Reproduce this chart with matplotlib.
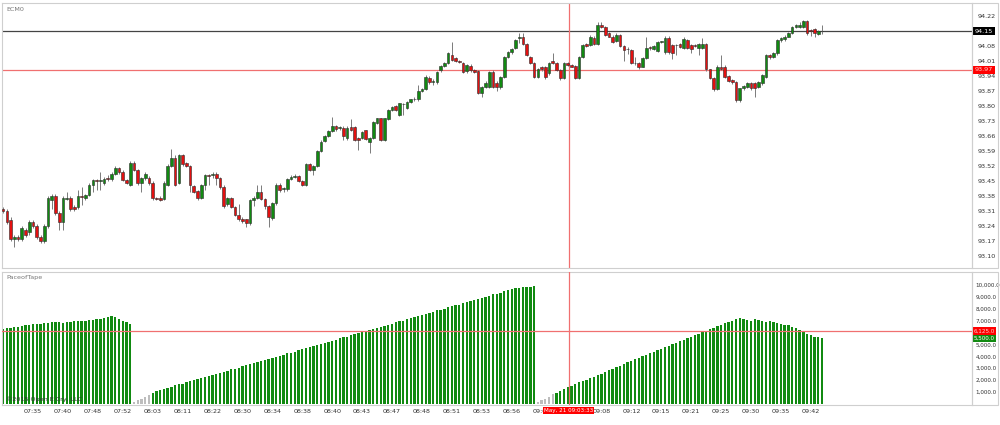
import matplotlib
matplotlib.use("Agg")
import matplotlib.pyplot as plt
from matplotlib.patches import Rectangle

# candles (one per bar, left to right)
opens = [93.32, 93.31, 93.27, 93.18, 93.19, 93.18, 93.22, 93.21, 93.26, 93.24,
         93.19, 93.17, 93.24, 93.36, 93.38, 93.30, 93.26, 93.365, 93.37, 93.33,
         93.33, 93.38, 93.37, 93.385, 93.43, 93.455, 93.45, 93.44, 93.465, 93.458,
         93.483, 93.509, 93.493, 93.455, 93.431, 93.532, 93.501, 93.442, 93.462, 93.462,
         93.442, 93.369, 93.372, 93.364, 93.431, 93.52, 93.559, 93.439, 93.571, 93.532,
         93.521, 93.427, 93.403, 93.369, 93.431, 93.478, 93.476, 93.483, 93.462, 93.423,
         93.342, 93.369, 93.330, 93.291, 93.271, 93.271, 93.252, 93.361, 93.372, 93.400,
         93.364, 93.333, 93.276, 93.346, 93.431, 93.411, 93.411, 93.459, 93.470, 93.475,
         93.451, 93.431, 93.529, 93.501, 93.520, 93.591, 93.638, 93.660, 93.683, 93.707,
         93.699, 93.699, 93.649, 93.700, 93.700, 93.649, 93.649, 93.688, 93.633, 93.649,
         93.722, 93.742, 93.641, 93.738, 93.781, 93.800, 93.758, 93.809, 93.789, 93.820,
         93.831, 93.831, 93.870, 93.879, 93.932, 93.913, 93.913, 93.968, 93.988, 93.999,
         94.038, 94.022, 94.010, 93.999, 93.963, 93.988, 93.968, 93.963, 93.859, 93.890,
         93.890, 93.960, 93.909, 93.890, 93.937, 94.030, 94.050, 94.069, 94.116, 94.120,
         94.088, 94.030, 93.999, 93.937, 93.980, 93.980, 93.952, 94.010, 93.999, 93.968,
         93.929, 93.999, 93.991, 93.988, 93.929, 94.030, 94.088, 94.085, 94.119, 94.088,
         94.178, 94.170, 94.139, 94.124, 94.103, 94.131, 94.082, 94.064, 94.061, 93.999,
         93.999, 93.984, 94.025, 94.077, 94.064, 94.057, 94.100, 94.050, 94.119, 94.085,
         94.085, 94.088, 94.069, 94.108, 94.085, 94.085, 94.069, 94.069, 94.088, 93.971,
         93.932, 93.879, 93.984, 93.984, 93.940, 93.921, 93.913, 93.828, 93.882, 93.890,
         93.906, 93.906, 93.890, 93.906, 93.937, 94.038, 94.030, 94.046, 94.108, 94.113,
         94.124, 94.139, 94.170, 94.170, 94.170, 94.197, 94.155, 94.159, 94.134, 94.150]
highs = [93.33, 93.32, 93.28, 93.20, 93.20, 93.24, 93.23, 93.27, 93.27, 93.25,
         93.20, 93.25, 93.38, 93.39, 93.39, 93.31, 93.38, 93.40, 93.38, 93.34,
         93.41, 93.42, 93.39, 93.44, 93.46, 93.46, 93.49, 93.47, 93.48, 93.49,
         93.52, 93.515, 93.50, 93.46, 93.545, 93.545, 93.505, 93.47, 93.49, 93.475,
         93.45, 93.375, 93.38, 93.45, 93.53, 93.598, 93.57, 93.575, 93.575, 93.54,
         93.525, 93.43, 93.41, 93.435, 93.485, 93.485, 93.49, 93.49, 93.47, 93.43,
         93.375, 93.375, 93.335, 93.345, 93.28, 93.275, 93.365, 93.38, 93.431, 93.431,
         93.37, 93.34, 93.35, 93.44, 93.44, 93.42, 93.465, 93.48, 93.485, 93.48,
         93.455, 93.535, 93.535, 93.525, 93.595, 93.64, 93.665, 93.69, 93.747, 93.71,
         93.705, 93.705, 93.705, 93.738, 93.705, 93.655, 93.685, 93.69, 93.655, 93.73,
         93.745, 93.745, 93.745, 93.785, 93.80, 93.805, 93.815, 93.815, 93.825, 93.835,
         93.84, 93.898, 93.885, 93.945, 93.94, 93.925, 93.965, 93.993, 94.005, 94.05,
         94.100, 94.03, 94.015, 94.005, 93.995, 93.995, 93.975, 93.97, 93.895, 93.915,
         93.965, 93.968, 93.915, 93.94, 94.035, 94.055, 94.07, 94.112, 94.139, 94.139,
         94.092, 94.035, 94.005, 93.978, 93.985, 93.985, 94.005, 94.046, 94.005, 93.972,
         94.005, 94.005, 93.995, 93.992, 94.035, 94.09, 94.095, 94.13, 94.125, 94.19,
         94.19, 94.175, 94.145, 94.13, 94.14, 94.135, 94.085, 94.077, 94.065, 94.030,
         94.005, 94.03, 94.124, 94.08, 94.085, 94.105, 94.105, 94.125, 94.125, 94.09,
         94.09, 94.092, 94.12, 94.112, 94.09, 94.09, 94.092, 94.116, 94.092, 93.975,
         93.935, 93.99, 94.038, 93.99, 93.945, 93.925, 93.918, 93.886, 93.90, 93.91,
         93.91, 93.91, 93.918, 93.95, 94.045, 94.045, 94.05, 94.112, 94.12, 94.13,
         94.145, 94.175, 94.182, 94.19, 94.20, 94.20, 94.16, 94.165, 94.155, 94.178]
lows = [93.30, 93.25, 93.17, 93.14, 93.17, 93.17, 93.19, 93.20, 93.23, 93.18,
        93.16, 93.16, 93.23, 93.32, 93.29, 93.22, 93.22, 93.36, 93.31, 93.31,
        93.32, 93.34, 93.36, 93.38, 93.40, 93.41, 93.41, 93.43, 93.45, 93.45,
        93.48, 93.485, 93.45, 93.435, 93.425, 93.495, 93.43, 93.40, 93.455, 93.43,
        93.36, 93.36, 93.355, 93.36, 93.425, 93.515, 93.425, 93.435, 93.52, 93.515,
        93.40, 93.395, 93.36, 93.365, 93.41, 93.43, 93.465, 93.431, 93.415, 93.325,
        93.335, 93.325, 93.285, 93.265, 93.255, 93.237, 93.245, 93.335, 93.365, 93.36,
        93.32, 93.237, 93.27, 93.34, 93.40, 93.40, 93.405, 93.455, 93.465, 93.445,
        93.425, 93.425, 93.495, 93.48, 93.515, 93.585, 93.633, 93.655, 93.68, 93.685,
        93.69, 93.641, 93.64, 93.685, 93.635, 93.595, 93.645, 93.64, 93.582, 93.645,
        93.715, 93.635, 93.635, 93.735, 93.775, 93.775, 93.755, 93.758, 93.785, 93.815,
        93.825, 93.825, 93.865, 93.875, 93.905, 93.90, 93.905, 93.96, 93.98, 93.995,
        94.01, 94.005, 94.00, 93.955, 93.955, 93.96, 93.955, 93.855, 93.84, 93.885,
        93.885, 93.885, 93.87, 93.88, 93.93, 94.025, 94.045, 94.065, 94.092, 94.085,
        94.035, 93.995, 93.93, 93.93, 93.965, 93.925, 93.945, 93.995, 93.965, 93.92,
        93.925, 93.985, 93.98, 93.925, 93.925, 94.025, 94.075, 94.08, 94.085, 94.085,
        94.165, 94.125, 94.12, 94.095, 94.10, 94.075, 94.010, 94.041, 93.995, 93.991,
        93.975, 93.98, 94.02, 94.06, 94.06, 94.05, 94.095, 94.045, 94.045, 94.019,
        94.04, 94.07, 94.065, 94.065, 94.046, 94.075, 94.04, 94.065, 93.965, 93.925,
        93.87, 93.875, 93.97, 93.93, 93.91, 93.905, 93.82, 93.82, 93.875, 93.885,
        93.875, 93.843, 93.885, 93.90, 93.93, 94.02, 94.025, 94.04, 94.10, 94.105,
        94.12, 94.135, 94.165, 94.165, 94.165, 94.13, 94.125, 94.12, 94.13, 94.134]
closes = [93.31, 93.26, 93.18, 93.19, 93.18, 93.23, 93.20, 93.26, 93.24, 93.19,
          93.17, 93.24, 93.37, 93.38, 93.30, 93.26, 93.37, 93.372, 93.32, 93.32,
          93.38, 93.375, 93.385, 93.43, 93.455, 93.452, 93.455, 93.46, 93.46, 93.483,
          93.509, 93.493, 93.455, 93.442, 93.532, 93.501, 93.439, 93.462, 93.483, 93.442,
          93.369, 93.366, 93.361, 93.442, 93.52, 93.559, 93.431, 93.571, 93.529, 93.521,
          93.431, 93.40, 93.369, 93.431, 93.478, 93.473, 93.483, 93.462, 93.423, 93.333,
          93.369, 93.330, 93.291, 93.271, 93.262, 93.252, 93.361, 93.372, 93.400, 93.364,
          93.333, 93.280, 93.346, 93.431, 93.408, 93.416, 93.459, 93.470, 93.475, 93.451,
          93.431, 93.529, 93.501, 93.520, 93.591, 93.633, 93.660, 93.683, 93.707, 93.691,
          93.699, 93.660, 93.699, 93.688, 93.641, 93.641, 93.680, 93.644, 93.652, 93.727,
          93.742, 93.641, 93.742, 93.781, 93.797, 93.781, 93.812, 93.809, 93.820, 93.831,
          93.835, 93.870, 93.879, 93.937, 93.910, 93.917, 93.960, 93.988, 93.999, 94.046,
          94.015, 94.010, 94.004, 93.960, 93.991, 93.968, 93.960, 93.859, 93.890, 93.909,
          93.960, 93.890, 93.890, 93.937, 94.030, 94.050, 94.066, 94.108, 94.124, 94.088,
          94.038, 93.999, 93.937, 93.973, 93.973, 93.937, 93.999, 93.999, 93.968, 93.929,
          93.999, 93.991, 93.984, 93.929, 94.030, 94.085, 94.080, 94.124, 94.088, 94.178,
          94.170, 94.131, 94.124, 94.100, 94.131, 94.080, 94.061, 94.064, 93.999, 93.999,
          93.980, 94.025, 94.069, 94.069, 94.080, 94.100, 94.100, 94.119, 94.050, 94.046,
          94.085, 94.077, 94.113, 94.069, 94.066, 94.080, 94.088, 94.088, 93.971, 93.929,
          93.879, 93.984, 93.975, 93.937, 93.917, 93.913, 93.828, 93.882, 93.895, 93.906,
          93.882, 93.882, 93.913, 93.945, 94.038, 94.030, 94.046, 94.108, 94.116, 94.124,
          94.139, 94.170, 94.178, 94.178, 94.197, 94.139, 94.150, 94.139, 94.150, 94.150]

# Pace of Tape, one value per bar (three runs, counter resets)
pace_run1 = [6300, 6350, 6400, 6450, 6500, 6550, 6600, 6650, 6700, 6700,
             6750, 6800, 6800, 6850, 6900, 6850, 6800, 6850, 6900, 6950,
             6950, 7000, 7000, 7050, 7050, 7100, 7150, 7200, 7300, 7400,
             7300, 7100, 7000, 6900, 6700]
pace_run2 = [150, 300, 450, 600, 750, 950, 1050, 1150, 1250, 1350,
             1450, 1550, 1650, 1700, 1800, 1900, 2000, 2100, 2150, 2250,
             2350, 2450, 2550, 2600, 2700, 2800, 2900, 2950, 3050, 3150,
             3250, 3350, 3400, 3500, 3600, 3700, 3800, 3850, 3950, 4050,
             4150, 4250, 4300, 4400, 4500, 4600, 4700, 4750, 4850, 4950,
             5050, 5150, 5200, 5300, 5400, 5500, 5600, 5650, 5750, 5850,
             5950, 6050, 6100, 6200, 6300, 6400, 6500, 6550, 6650, 6750,
             6850, 6950, 7000, 7100, 7200, 7300, 7400, 7450, 7550, 7650,
             7750, 7850, 7900, 8000, 8100, 8200, 8300, 8350, 8450, 8550,
             8650, 8750, 8800, 8900, 9000, 9100, 9200, 9250, 9350, 9450,
             9550, 9650, 9700, 9750, 9800, 9850, 9800, 9900]
pace_run3 = [150, 300, 450, 600, 800, 950, 1100, 1250, 1400, 1500,
             1650, 1800, 1900, 2050, 2200, 2300, 2450, 2550, 2700, 2850,
             2950, 3100, 3200, 3350, 3500, 3600, 3750, 3850, 4000, 4100,
             4250, 4400, 4500, 4650, 4750, 4900, 5000, 5150, 5300, 5400,
             5550, 5650, 5800, 5900, 6050, 6150, 6300, 6400, 6550, 6650,
             6800, 6900, 7000, 7100, 7200, 7100, 7050, 7000, 7100, 7050,
             6950, 6900, 6950, 6850, 6800, 6700, 6650, 6600, 6500, 6400,
             6250, 6100, 5900, 5800, 5650, 5600, 5500]

# every 8th bar; the 09:03 slot is hidden under the crosshair label
time_labels = ["07:35", "07:40", "07:48", "07:52", "08:03", "08:11", "08:22",
               "08:30", "08:34", "08:38", "08:40", "08:43", "08:47", "08:48",
               "08:51", "08:53", "08:56", "09:01", "", "09:08", "09:12",
               "09:15", "09:21", "09:25", "09:30", "09:35", "09:42"]
price_ticks = [93.10, 93.17, 93.24, 93.31, 93.38, 93.45, 93.52, 93.59, 93.66,
               93.73, 93.80, 93.87, 93.94, 94.01, 94.08, 94.22]
pace_ticks = [1000, 2000, 3000, 4000, 5000, 7000, 8000, 9000, 10000]

last_price = 94.15
cross_price = 93.97
cross_pace = 6125
last_pace = 5500
cross_bar = 151.2
cross_label = "May, 21 09:03:33"

GREEN = "#118a11"
RED = "#e31010"
EDGE = "#2a2a2a"
FRAME = "#cfcfcf"
CROSS = "#f07070"
FS = 4.6
FS_SMALL = 4.1

pace = pace_run1 + pace_run2 + pace_run3
n = len(closes)
xs = list(range(n))

fig = plt.figure(figsize=(10, 4.25), dpi=100)
ax = fig.add_axes([0.002, 1 - 268 / 425, 0.970, 265 / 425])
ax2 = fig.add_axes([0.002, 1 - 405 / 425, 0.970, 133 / 425], sharex=ax)

# candles
body_lo = [min(o, c) for o, c in zip(opens, closes)]
body_h = [max(abs(c - o), 0.0015) for o, c in zip(opens, closes)]
colors = [GREEN if c >= o else RED for o, c in zip(opens, closes)]
ax.vlines(xs, lows, highs, color="#7a7a7a", linewidth=0.7, zorder=2)
ax.bar(xs, body_h, bottom=body_lo, width=0.72, color=colors,
       edgecolor=EDGE, linewidth=0.4, zorder=3)

ax.axhline(last_price, color="#444444", linewidth=0.9, zorder=1)
ax.axhline(cross_price, color=CROSS, linewidth=0.9, zorder=1)
ax.axvline(cross_bar, color=CROSS, linewidth=0.9, zorder=1)

ax.set_xlim(-0.3, 259.1)
ax.set_ylim(93.044, 94.281)
ax.yaxis.tick_right()
ax.set_yticks(price_ticks)
ax.set_yticklabels([f"{p:.2f}" for p in price_ticks])
ax.tick_params(axis="y", length=0, pad=4, labelsize=FS, labelcolor="#333333")
ax.tick_params(axis="x", length=0, labelbottom=False)
for s in ax.spines.values():
    s.set_color(FRAME)
    s.set_linewidth(0.8)
ax.text(0.004, 0.985, "ECM0", transform=ax.transAxes, fontsize=FS,
        color="#777777", va="top", ha="left")

ytr = ax.get_yaxis_transform()
ax.text(1.003, last_price, f"{last_price:.2f}", transform=ytr, fontsize=FS,
        color="white", va="center", ha="left", zorder=5,
        bbox=dict(boxstyle="square,pad=0.25", fc="black", ec="none"))
ax.text(1.003, cross_price, f"{cross_price:.2f}", transform=ytr, fontsize=FS,
        color="#ffd0d0", va="center", ha="left", zorder=5,
        bbox=dict(boxstyle="square,pad=0.25", fc="#ff0000", ec="none"))

# pace of tape
bar_colors = ["#bdbdbd" if v < 900 else GREEN for v in pace]
ax2.bar(xs[:len(pace)], pace, width=0.62, color=bar_colors, linewidth=0, zorder=2)
ax2.axhline(cross_pace, color=CROSS, linewidth=0.9, zorder=3)
ax2.axvline(cross_bar, color=CROSS, linewidth=0.9, zorder=3)
ax2.set_ylim(-90, 11080)
ax2.yaxis.tick_right()
ax2.set_yticks(pace_ticks)
ax2.set_yticklabels([f"{v:,.1f}" for v in pace_ticks])
ax2.tick_params(axis="y", length=0, pad=2.5, labelsize=FS_SMALL, labelcolor="#333333")
ax2.set_xticks(list(range(8, 8 * len(time_labels) + 1, 8)))
ax2.set_xticklabels(time_labels)
ax2.tick_params(axis="x", length=0, pad=3, labelsize=FS, labelcolor="#333333")
for s in ax2.spines.values():
    s.set_color(FRAME)
    s.set_linewidth(0.8)
ax2.text(0.004, 0.975, "PaceofTape", transform=ax2.transAxes, fontsize=FS,
         color="#777777", va="top", ha="left")
ax2.text(0.004, 0.02, "©2015 Open E Cry, LLC", transform=ax2.transAxes,
         fontsize=FS, color="#333333", va="bottom", ha="left", zorder=6)

ytr2 = ax2.get_yaxis_transform()
ax2.text(1.002, cross_pace, f"{cross_pace:,.1f}", transform=ytr2, fontsize=FS_SMALL,
         color="#ffd0d0", va="center", ha="left", zorder=5,
         bbox=dict(boxstyle="square,pad=0.2", fc="#ff0000", ec="none"))
ax2.text(1.002, last_pace, f"{last_pace:,.1f}", transform=ytr2, fontsize=FS_SMALL,
         color="white", va="center", ha="left", zorder=5,
         bbox=dict(boxstyle="square,pad=0.2", fc=GREEN, ec="none"))

ax2.text(cross_bar, -0.02, cross_label, transform=ax2.get_xaxis_transform(),
         fontsize=FS_SMALL, color="white", va="top", ha="center", zorder=10,
         clip_on=False,
         bbox=dict(boxstyle="square,pad=0.2", fc="#ff0000", ec="none"))

# price scale frames
for y0, h in [(1 - 268 / 425, 265 / 425), (1 - 405 / 425, 133 / 425)]:
    fig.add_artist(Rectangle((0.972, y0), 0.026, h, transform=fig.transFigure,
                             fill=False, ec=FRAME, lw=0.8))

fig.savefig("out.png", dpi=100)
